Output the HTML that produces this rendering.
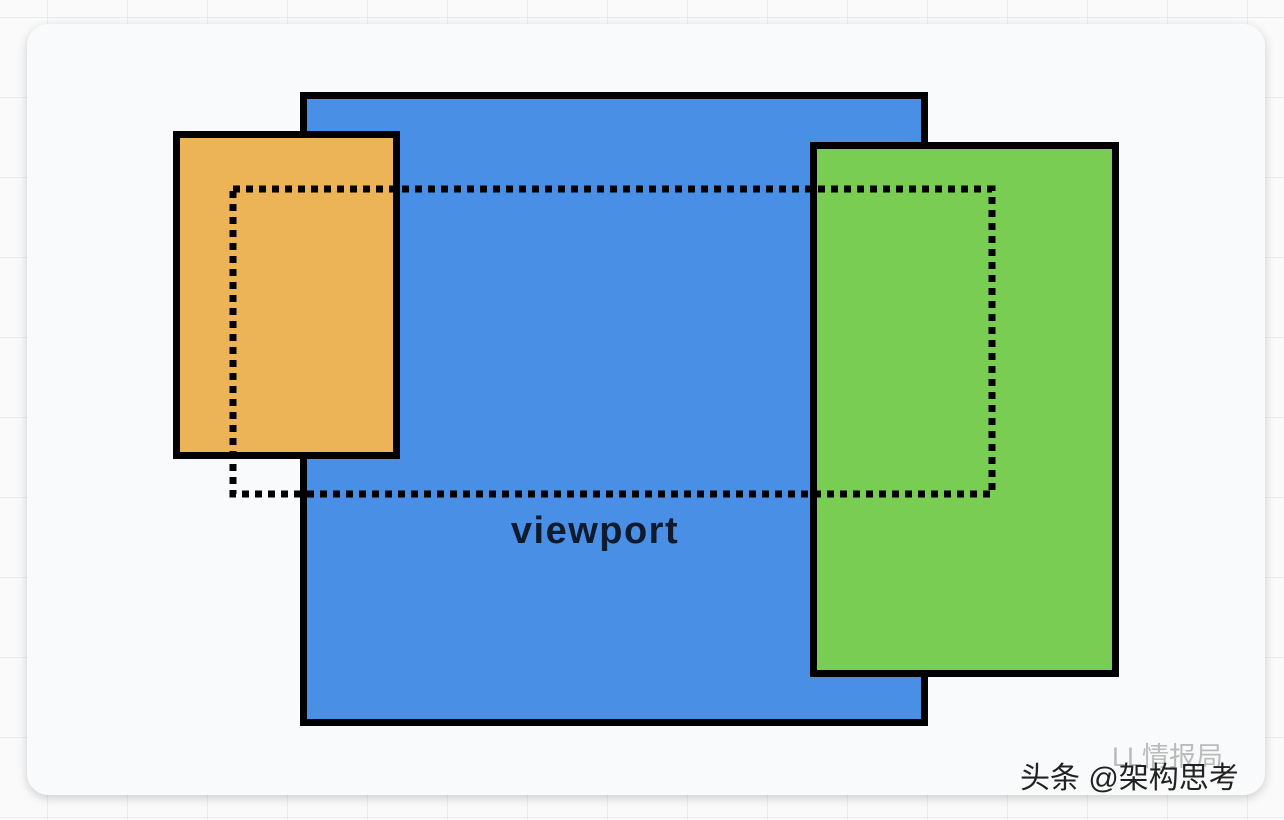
<!DOCTYPE html>
<html><head><meta charset="utf-8"><style>
html,body{margin:0;padding:0;width:1284px;height:820px;overflow:hidden;background:#f4f5f5;}
</style></head><body>
<svg width="1284" height="820" xmlns="http://www.w3.org/2000/svg">
<defs>
<pattern id="g" width="80" height="80" patternUnits="userSpaceOnUse" x="47" y="17">
<path d="M0 0H80M0 0V80" stroke="#e6e7e8" stroke-width="1.5" fill="none"/>
</pattern>
<filter id="s" x="-5%" y="-5%" width="110%" height="110%"><feDropShadow dx="0" dy="3" stdDeviation="5" flood-color="#000" flood-opacity="0.18"/></filter>
</defs>
<rect width="1284" height="820" fill="#fafafa"/>
<rect width="1284" height="820" fill="url(#g)"/>
<rect x="27" y="24" width="1238" height="771" rx="22" fill="#f9fafb" filter="url(#s)"/>
<rect x="303.5" y="95.5" width="621" height="627" fill="#4a8fe6" stroke="#000" stroke-width="7"/>
<rect x="176.5" y="134.5" width="220" height="321" fill="#ecb456" stroke="#000" stroke-width="7"/>
<rect x="813.5" y="145.5" width="302" height="528" fill="#78cd52" stroke="#000" stroke-width="7"/>
<rect x="233" y="189" width="759" height="305" fill="none" stroke="#000" stroke-width="7" stroke-dasharray="7 6"/>
<text x="595" y="543" text-anchor="middle" font-family="Liberation Sans, sans-serif" font-weight="bold" font-size="38" letter-spacing="1.5" fill="#0e1a2e">viewport</text>
<text x="1112" y="766" font-family="Liberation Sans, Noto Sans CJK SC, sans-serif" font-size="27" fill="#bbb">LL情报局</text>
<text x="1020" y="788" font-family="Liberation Sans, Noto Sans CJK SC, sans-serif" font-size="30" fill="#222">头条 @架构思考</text>
</svg>
</body></html>
